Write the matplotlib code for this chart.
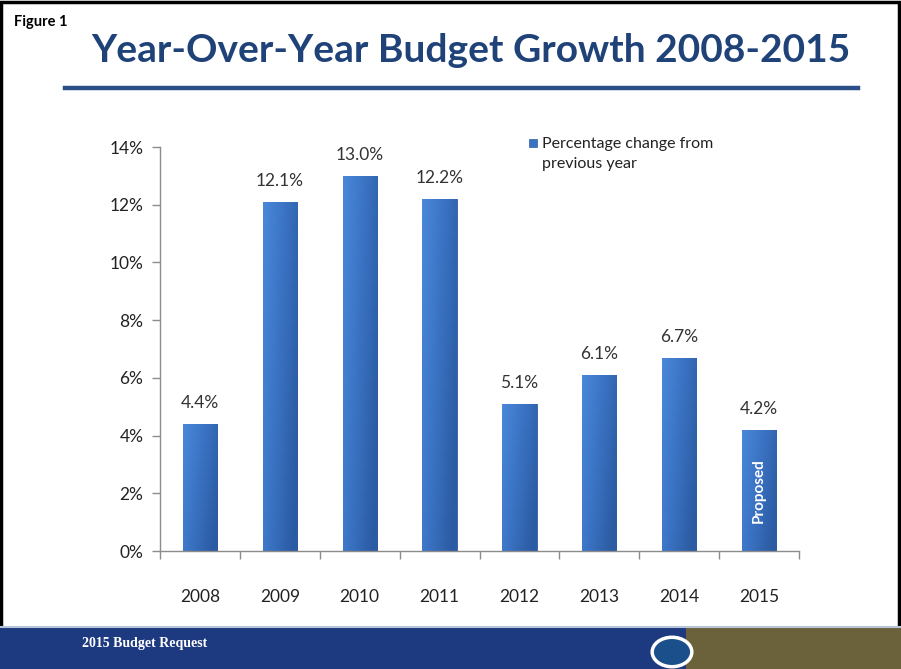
import matplotlib.pyplot as plt
import numpy as np
from matplotlib.patches import Rectangle, Circle
from matplotlib.colors import LinearSegmentedColormap

years = ["2008", "2009", "2010", "2011", "2012", "2013", "2014", "2015"]
growth = [4.4, 12.1, 13.0, 12.2, 5.1, 6.1, 6.7, 4.2]
labels = ["4.4%", "12.1%", "13.0%", "12.2%", "5.1%", "6.1%", "6.7%", "4.2%"]
yticks = [0, 2, 4, 6, 8, 10, 12, 14]

plt.rcParams['font.family'] = ['Lato', 'DejaVu Sans']

fig = plt.figure(figsize=(9.01, 6.69), dpi=100)
W, H = 901, 669


def fx(px):
    return px / W


def fy(py):
    return 1 - py / H


# outer frame
fig.patches.append(Rectangle((0.001, 0.001), 0.997, 0.996, transform=fig.transFigure,
                             fill=False, edgecolor='black', linewidth=2.5))

# title area
fig.text(fx(14), fy(22), "Figure 1", fontsize=10.5, fontweight='bold', va='center', ha='left',
         color='black')
fig.text(fx(471), fy(50), "Year-Over-Year Budget Growth 2008-2015", fontsize=28,
         fontweight='bold', color='#1f4278', ha='center', va='center')
fig.lines.append(plt.Line2D([fx(65), fx(858)], [fy(88), fy(88)], transform=fig.transFigure,
                            color='#2b4f86', linewidth=3.2))

# footer
fig.patches.append(Rectangle((0, 0), fx(686), fy(628), transform=fig.transFigure,
                             facecolor='#1d3a80', edgecolor='none'))
fig.patches.append(Rectangle((fx(686), 0), 1 - fx(686), fy(628), transform=fig.transFigure,
                             facecolor='#6b623b', edgecolor='none'))
fig.lines.append(plt.Line2D([0, 1], [fy(627), fy(627)], transform=fig.transFigure,
                            color='#b8c4d8', linewidth=1.5))
fig.text(fx(82), fy(643), "2015 Budget Request", fontsize=10, fontweight='bold',
         family=['Liberation Serif', 'DejaVu Serif'], color='white', ha='left', va='center')
logo = Circle((fx(672), fy(652)), 0.022, transform=fig.transFigure,
              facecolor='#1a4f8c', edgecolor='white', linewidth=2.5)
fig.patches.append(logo)

# chart
ax = fig.add_axes([fx(160), fy(551), fx(799) - fx(160), fy(147) - fy(551)])
x = np.arange(len(years))
bars = ax.bar(x, growth, width=0.43, color='#3a72c2', edgecolor='#2d5ea6', linewidth=0.6,
              zorder=2)

cmap = LinearSegmentedColormap.from_list('bar', ['#4a88da', '#3a72c2', '#2b5ba2'])
gx = np.linspace(0, 1, 64).reshape(1, -1)
gy = np.linspace(0, 0.35, 64).reshape(-1, 1)
grad = np.clip(gx * 0.75 + gy, 0, 1)
for b in bars:
    x0, w, h = b.get_x(), b.get_width(), b.get_height()
    im = ax.imshow(grad, cmap=cmap, extent=[x0, x0 + w, 0, h], aspect='auto', zorder=2.5,
                   origin='upper')
    im.set_clip_path(b)

for xi, v, lab in zip(x, growth, labels):
    ax.text(xi, v + 0.45, lab, ha='center', va='bottom', fontsize=12.5, color='#333333')

ax.text(x[-1], growth[-1] / 2, "Proposed", rotation=90, ha='center', va='center',
        color='white', fontsize=11, fontweight='bold', zorder=3)

ax.set_xlim(-0.5, len(years) - 0.5)
ax.set_ylim(0, 14)
ax.set_yticks(yticks)
ax.set_yticklabels([f"{t}%" for t in yticks], fontsize=12.5, color='#222222')
ax.set_xticks(x)
ax.set_xticklabels(years, fontsize=12.5, color='#222222')
ax.set_xticks(np.arange(-0.5, len(years)), minor=True)
ax.tick_params(axis='x', which='major', length=0, pad=27)
ax.tick_params(axis='x', which='minor', length=6, color='#8c8c8c', width=1)
ax.tick_params(axis='y', length=6, color='#8c8c8c', width=1, pad=6)
for s in ['top', 'right']:
    ax.spines[s].set_visible(False)
for s in ['left', 'bottom']:
    ax.spines[s].set_color('#8c8c8c')
    ax.spines[s].set_linewidth(1)

# legend
fig.patches.append(Rectangle((fx(529), fy(147)), fx(8), fy(139) - fy(147), transform=fig.transFigure,
                             facecolor='#3a72c2', edgecolor='#2d5ea6', linewidth=0.5))
fig.text(fx(542), fy(154), "Percentage change from\nprevious year", fontsize=11.5,
         color='#222222', ha='left', va='center', linespacing=1.6)

fig.savefig("out.png", dpi=100)
